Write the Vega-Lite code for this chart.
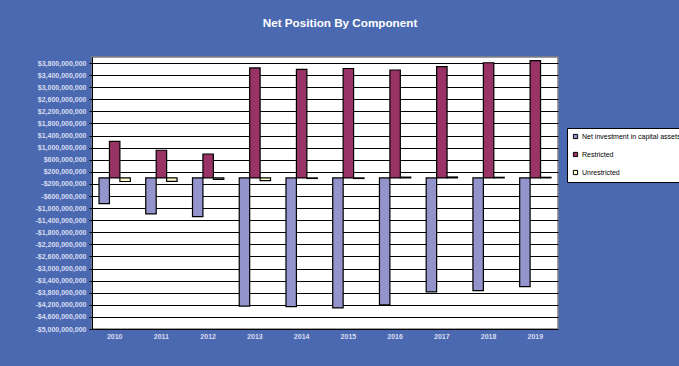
{
  "$schema": "https://vega.github.io/schema/vega-lite/v6.json",
  "width": 466,
  "height": 272,
  "autosize": {"type": "none"},
  "padding": {"left": 92, "top": 57, "right": 121, "bottom": 37},
  "background": "#4B69B1",
  "title": {
    "text": "Net Position By Component",
    "color": "#FFFFFF",
    "font": "Liberation Sans",
    "fontSize": 11.7,
    "fontWeight": "bold",
    "anchor": "middle",
    "dx": 15,
    "offset": 27
  },
  "config": {
    "view": {"fill": "#FFFFFF", "stroke": "#808080", "strokeWidth": 1.5},
    "font": "Liberation Sans"
  },
  "data": {
    "values": [
      {"year": "2010", "component": "Net investment in capital assets", "value": -850000000},
      {"year": "2010", "component": "Restricted", "value": 1210000000},
      {"year": "2010", "component": "Unrestricted", "value": -120000000},
      {"year": "2011", "component": "Net investment in capital assets", "value": -1190000000},
      {"year": "2011", "component": "Restricted", "value": 915000000},
      {"year": "2011", "component": "Unrestricted", "value": -115000000},
      {"year": "2012", "component": "Net investment in capital assets", "value": -1280000000},
      {"year": "2012", "component": "Restricted", "value": 790000000},
      {"year": "2012", "component": "Unrestricted", "value": -50000000},
      {"year": "2013", "component": "Net investment in capital assets", "value": -4240000000},
      {"year": "2013", "component": "Restricted", "value": 3640000000},
      {"year": "2013", "component": "Unrestricted", "value": -90000000},
      {"year": "2014", "component": "Net investment in capital assets", "value": -4260000000},
      {"year": "2014", "component": "Restricted", "value": 3590000000},
      {"year": "2014", "component": "Unrestricted", "value": -20000000},
      {"year": "2015", "component": "Net investment in capital assets", "value": -4300000000},
      {"year": "2015", "component": "Restricted", "value": 3620000000},
      {"year": "2015", "component": "Unrestricted", "value": -20000000},
      {"year": "2016", "component": "Net investment in capital assets", "value": -4200000000},
      {"year": "2016", "component": "Restricted", "value": 3570000000},
      {"year": "2016", "component": "Unrestricted", "value": 25000000},
      {"year": "2017", "component": "Net investment in capital assets", "value": -3770000000},
      {"year": "2017", "component": "Restricted", "value": 3680000000},
      {"year": "2017", "component": "Unrestricted", "value": 30000000},
      {"year": "2018", "component": "Net investment in capital assets", "value": -3730000000},
      {"year": "2018", "component": "Restricted", "value": 3810000000},
      {"year": "2018", "component": "Unrestricted", "value": 20000000},
      {"year": "2019", "component": "Net investment in capital assets", "value": -3600000000},
      {"year": "2019", "component": "Restricted", "value": 3880000000},
      {"year": "2019", "component": "Unrestricted", "value": 20000000}
    ]
  },
  "mark": {"type": "bar", "stroke": "#000000", "strokeWidth": 1.2},
  "encoding": {
    "x": {
      "field": "year",
      "type": "nominal",
      "scale": {"paddingInner": 0.33, "paddingOuter": 0.15},
      "axis": {
        "title": null,
        "labelAngle": 0,
        "labelColor": "#D8DEF2",
        "labelFont": "Liberation Sans",
        "labelFontSize": 7,
        "labelFontWeight": "bold",
        "labelPadding": 3,
        "ticks": false,
        "domain": false
      }
    },
    "xOffset": {
      "field": "component",
      "type": "nominal",
      "sort": ["Net investment in capital assets", "Restricted", "Unrestricted"],
      "scale": {"paddingInner": 0}
    },
    "y": {
      "field": "value",
      "type": "quantitative",
      "scale": {"domain": [-5000000000, 4000000000], "nice": false, "zero": false},
      "axis": {
        "title": null,
        "values": [-5000000000, -4600000000, -4200000000, -3800000000, -3400000000, -3000000000, -2600000000, -2200000000, -1800000000, -1400000000, -1000000000, -600000000, -200000000, 200000000, 600000000, 1000000000, 1400000000, 1800000000, 2200000000, 2600000000, 3000000000, 3400000000, 3800000000],
        "labelExpr": "(datum.value < 0 ? '-' : '') + '$' + format(abs(datum.value), ',.0f')",
        "labelColor": "#D8DEF2",
        "labelFont": "Liberation Sans",
        "labelFontSize": 7,
        "labelFontWeight": "bold",
        "labelPadding": 3,
        "tickColor": "#000000",
        "tickSize": 3,
        "domainColor": "#000000",
        "grid": true,
        "gridColor": "#000000",
        "gridWidth": 1
      }
    },
    "color": {
      "field": "component",
      "type": "nominal",
      "sort": ["Net investment in capital assets", "Restricted", "Unrestricted"],
      "scale": {
        "domain": ["Net investment in capital assets", "Restricted", "Unrestricted"],
        "range": ["#9494CC", "#993366", "#FFFFCC"]
      },
      "legend": {
        "title": null,
        "orient": "none",
        "legendX": 475,
        "legendY": 71,
        "fillColor": "#FFFFFF",
        "strokeColor": "#000000",
        "padding": 5,
        "rowPadding": 9,
        "symbolType": "square",
        "symbolSize": 18,
        "symbolStrokeColor": "#000000",
        "symbolStrokeWidth": 1,
        "labelFont": "Liberation Sans",
        "labelFontSize": 7,
        "labelColor": "#000000",
        "labelOffset": 3,
        "labelLimit": 200
      }
    }
  }
}
